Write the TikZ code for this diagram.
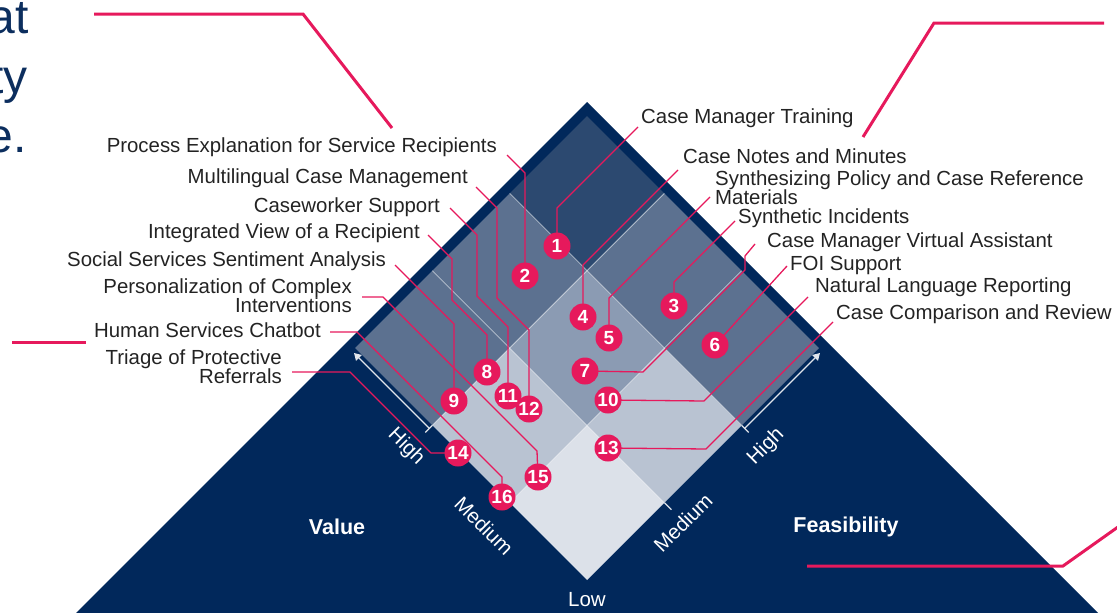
\documentclass[tikz,border=0pt]{standalone}
\usepackage{fontspec}
\setmainfont{Liberation Sans}
\usetikzlibrary{arrows.meta,calc}
\definecolor{navy}{RGB}{1,40,91}
\definecolor{navytxt}{RGB}{12,46,94}
\definecolor{crim}{RGB}{230,25,92}
\definecolor{labc}{RGB}{35,35,35}
\definecolor{cellHH}{RGB}{44,73,112}
\definecolor{cellMH}{RGB}{92,113,144}
\definecolor{cellMM}{RGB}{139,155,179}
\definecolor{cellLM}{RGB}{185,195,210}
\definecolor{cellLL}{RGB}{220,225,233}
\tikzset{
  lab/.style={font=\fontsize{20.4}{19}\selectfont,text=labc,inner sep=0pt},
  lead/.style={draw=crim,line width=1.3pt},
  deco/.style={draw=crim,line width=3pt},
  num/.style={circle,fill=crim,text=white,inner sep=0pt,minimum size=27pt,font=\fontsize{19}{19}\selectfont\bfseries},
  axtxt/.style={text=white,font=\fontsize{20.5}{20}\selectfont,inner sep=0pt},
  gridln/.style={draw=white,line width=0.8pt,opacity=0.6},
  axln/.style={draw=white!88!navy,line width=1.2pt}
}
\begin{document}
\begin{tikzpicture}[x=1pt,y=-1pt]
  \useasboundingbox (0,0) rectangle (1117,613);
  \def\cs{77.33}
  \def\xo{587}
  \def\yo{580}
  % triangle and the 3x3 matrix
  \fill[navy] (587,102) -- (67,622) -- (1107,622) -- cycle;
  \foreach \i/\j/\c in {0/0/cellLL,1/0/cellLM,0/1/cellLM,1/1/cellMM,2/0/cellMH,0/2/cellMH,2/1/cellMH,1/2/cellMH,2/2/cellHH}
    \fill[\c] ({\xo+(\j-\i)*\cs},{\yo-(\i+\j)*\cs}) -- ++(\cs,-\cs) -- ++(-\cs,-\cs) -- ++(-\cs,\cs) -- cycle;
  \foreach \k in {1,2}{
    \draw[gridln] ({\xo-\k*\cs},{\yo-\k*\cs}) -- ++({3*\cs},{-3*\cs});
    \draw[gridln] ({\xo+\k*\cs},{\yo-\k*\cs}) -- ++({-3*\cs},{-3*\cs});
    \draw[axln] ({\xo-\k*\cs},{\yo-\k*\cs}) -- ++(-7,7);
    \draw[axln] ({\xo+\k*\cs},{\yo-\k*\cs}) -- ++(7,7);
  }
  \draw[axln,-{Triangle[width=8pt,length=7pt]}] ({\xo-2*\cs-3},{\yo-2*\cs+3}) -- ({\xo-3*\cs-1},{\yo-3*\cs+5});
  \draw[axln,-{Triangle[width=8pt,length=7pt]}] ({\xo+2*\cs+3},{\yo-2*\cs+3}) -- ({\xo+3*\cs+1},{\yo-3*\cs+5});
  % axis texts
  \node[axtxt,rotate=-45] (hiV) at (406,447) {High};
  \node[axtxt,rotate=-45] (mdV) at (484,526) {Medium};
  \node[axtxt] (lo) at (587,600) {Low};
  \node[axtxt,rotate=45] (mdF) at (683,523) {Medium};
  \node[axtxt,rotate=45] (hiF) at (766,447) {High};
  \node[axtxt,font=\fontsize{21.5}{21}\selectfont\bfseries] (val) at (337,527) {Value};
  \node[axtxt,font=\fontsize{21.5}{21}\selectfont\bfseries] (fea) at (846,527) {Feasibility};
  % cut-off words and pink strokes
  \foreach \w/\x/\y/\t in {w1/29/33/at,w2/28/93/ty,w3/27/152/e.}
    \node[font=\fontsize{48}{48}\selectfont,text=navytxt,inner sep=0pt,anchor=base east] (\w) at (\x,\y) {\t};
  \draw[deco] (94,14) -- (303,14) -- (392,128);
  \draw[deco] (863,137) -- (934,23) -- (1104,23);
  \draw[deco] (12,342) -- (86,342);
  \draw[deco] (807,566) -- (1063,566) -- (1125,522);
  % labels
  \foreach \n/\x/\y/\t in {tA/497/152/Process Explanation for Service Recipients,
      tB/468/183/Multilingual Case Management,tC/440/212/Caseworker Support,
      tD/420/238/Integrated View of a Recipient,tE/386/266/Social Services Sentiment Analysis,
      tF/352/293/Personalization of Complex,tF2/352/312/Interventions,
      tG/321/337/Human Services Chatbot,tH/282/364/Triage of Protective,tH2/282/383/Referrals}
    \node[lab,anchor=base east] (\n) at (\x,\y) {\t};
  \foreach \n/\x/\y/\t in {tI/641/123/Case Manager Training,tJ/683/163/Case Notes and Minutes,
      tK/715/185/Synthesizing Policy and Case Reference,tK2/715/204/Materials,
      tL/738/223/Synthetic Incidents,tM/767/247/Case Manager Virtual Assistant,
      tN/790/270/FOI Support,tO/815/292/Natural Language Reporting,
      tP/836/319/Case Comparison and Review}
    \node[lab,anchor=base west] (\n) at (\x,\y) {\t};
  % use cases
  \foreach \n/\x/\y in {1/557/246,2/525/276,3/674/306,4/583/317,5/609/338,6/715/345,7/585/371,8/487/372,
      9/454/401,10/608/400,11/508/396,12/529/409,13/608/448,14/458/453,15/538/477,16/502/497}
    \coordinate (c\n) at (\x,\y);
  \draw[lead] ($(tA.base east)+(10,3)$) -- (525,173) -- (c2);
  \draw[lead] ($(tB.base east)+(8,4)$) -- (497,208) -- (497,298) -- (529,330) -- (c12);
  \draw[lead] ($(tC.base east)+(10,-4)$) -- (477,235) -- (477,296) -- (508,327) -- (c11);
  \draw[lead] ($(tD.base east)+(8,-3)$) -- (452,259) -- (452,300) -- (487,335) -- (c8);
  \draw[lead] ($(tE.base east)+(9,-1)$) -- (454,324) -- (c9);
  \draw[lead] ($(tF.base east)+(10,4)$) -- (383,297) -- (537,451) -- (c15);
  \draw[lead] ($(tG.base east)+(9,-5)$) -- (357,332) -- (502,477) -- (c16);
  \draw[lead] ($(tH2.base east)+(10,-11)$) -- (350,372) -- (431,453) -- (c14);
  \draw[lead] ($(tI.base west)+(-3,4)$) -- (557,208) -- (c1);
  \draw[lead] ($(tJ.base west)+(-5,7)$) -- (583,265) -- (c4);
  \draw[lead] ($(tK2.base west)+(-5,-7)$) -- (609,298) -- (c5);
  \draw[lead] ($(tL.base west)+(-3,-2)$) -- (674,282) -- (c3);
  \draw[lead] ($(tM.base west)+(-12,-3)$) -- (745,256) -- (745,270) -- (643,372) -- (c7);
  \draw[lead] ($(tN.base west)+(-3,-4)$) -- (c6);
  \draw[lead] ($(tO.base west)+(-7,5)$) -- (704,401) -- (c10);
  \draw[lead] ($(tP.base west)+(-3,3)$) -- (706,449) -- (c13);
  \foreach \n in {1,...,16}
    \node[num] (n\n) at (c\n) {\n};
\end{tikzpicture}
\end{document}
